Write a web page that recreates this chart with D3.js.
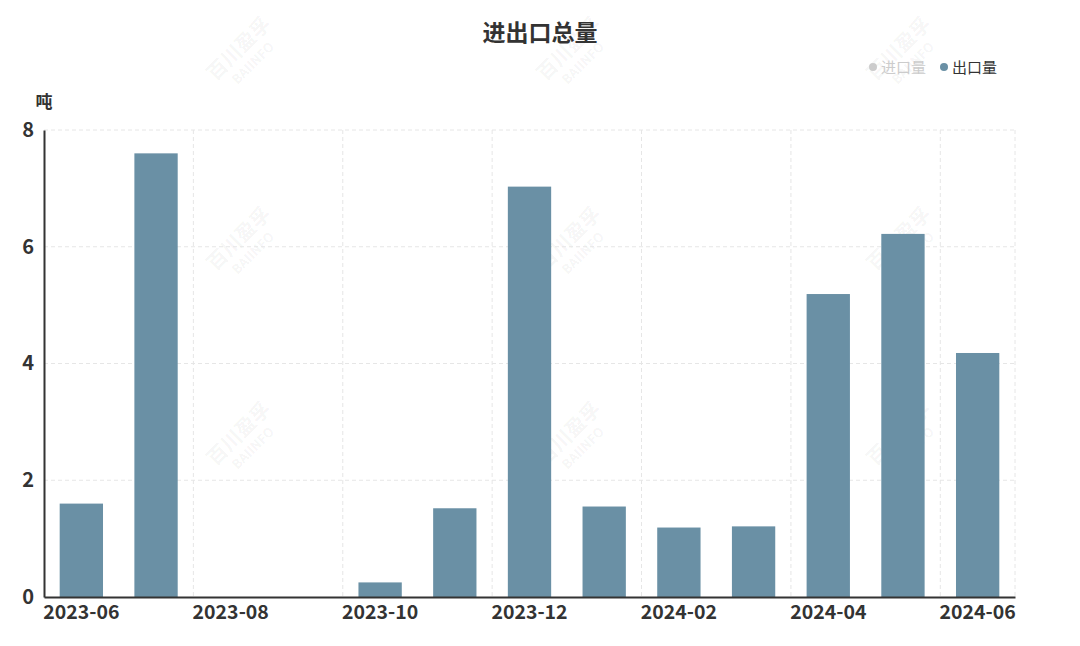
<!DOCTYPE html>
<html><head><meta charset="utf-8">
<script src="https://cdn.jsdelivr.net/npm/d3@7"></script>
<style>body{margin:0;background:#fff;}svg{display:block;font-family:"Noto Sans CJK SC","Noto Sans",sans-serif;}</style>
</head><body>
<svg id="c" width="1080" height="646"></svg>
<script>
const categories = ["2023-06","2023-07","2023-08","2023-09","2023-10","2023-11","2023-12","2024-01","2024-02","2024-03","2024-04","2024-05","2024-06"];
const exportValues = [1.6, 7.6, 0, 0, 0.25, 1.52, 7.03, 1.55, 1.19, 1.21, 5.19, 6.22, 4.18];
const yTicks = [0, 2, 4, 6, 8];
const legendItems = ["进口量", "出口量"];

const svg = d3.select("#c");
const m = {left: 44, right: 1015, top: 130, bottom: 597};
const x = d3.scaleBand().domain(categories).range([m.left, m.right]).paddingInner(0.42).paddingOuter(0.21);
const y = d3.scaleLinear().domain([0, 8]).range([m.bottom, m.top]);

// watermark
const wm = svg.append("g").attr("fill", "#000").attr("fill-opacity", 0.05);
[[245,55],[575,55],[905,55],[245,245],[575,245],[905,245],[245,440],[575,440],[905,440]].forEach(([cx,cy])=>{
  const g = wm.append("g").attr("transform", `translate(${cx},${cy}) rotate(-45)`);
  g.append("text").attr("text-anchor","middle").attr("font-size",20).attr("font-weight","bold").attr("y",-2).text("百川盈孚");
  g.append("text").attr("text-anchor","middle").attr("font-size",13).attr("font-weight","bold").attr("y",16).text("BAIINFO");
});

// grid horizontal
svg.append("g").selectAll("line").data(yTicks.filter(d=>d>0)).join("line")
  .attr("x1", m.left).attr("x2", m.right).attr("y1", d=>y(d)).attr("y2", d=>y(d))
  .attr("stroke", "#e6e6e6").attr("stroke-dasharray", "4,3");
// grid vertical at band boundaries
const vIdx = [2,4,6,8,10,12,13];
svg.append("g").selectAll("line").data(vIdx).join("line")
  .attr("x1", i=>m.left + i*(m.right-m.left)/categories.length)
  .attr("x2", i=>m.left + i*(m.right-m.left)/categories.length)
  .attr("y1", m.top).attr("y2", m.bottom)
  .attr("stroke", "#e6e6e6").attr("stroke-dasharray", "4,3");

// bars
svg.append("g").selectAll("rect").data(categories).join("rect")
  .attr("x", (d)=>x(d)).attr("width", x.bandwidth())
  .attr("y", (d,i)=>y(exportValues[i])).attr("height", (d,i)=>y(0)-y(exportValues[i]))
  .attr("fill", "#6a90a5");

// axes
const yAxis = svg.append("g").attr("transform", `translate(${m.left},0)`)
  .call(d3.axisLeft(y).tickValues(yTicks).tickSize(0).tickPadding(10));
yAxis.select(".domain").attr("stroke", "#333").attr("stroke-width", 2);
yAxis.selectAll("text").attr("font-size", 20).attr("font-weight", "bold").attr("fill", "#333").attr("font-family", "Noto Sans CJK SC");

const xAxis = svg.append("g").attr("transform", `translate(0,${m.bottom})`)
  .call(d3.axisBottom(x).tickValues(categories.filter((d,i)=>i%2===0)).tickSize(0).tickPadding(8));
xAxis.select(".domain").attr("stroke", "#333").attr("stroke-width", 2);
xAxis.selectAll("text").attr("font-size", 19.5).attr("font-weight", "bold").attr("fill", "#333").attr("font-family", "Noto Sans CJK SC");

// unit label
svg.append("text").attr("x", 44).attr("y", 108).attr("text-anchor","middle").attr("font-size", 17).attr("font-weight","bold").attr("fill","#333").text("吨");

// title
svg.append("text").attr("x", 540).attr("y", 41).attr("text-anchor","middle").attr("font-size", 23).attr("font-weight","bold").attr("fill","#333").text("进出口总量");

// legend
const lg = svg.append("g");
const lx = [873, 944];
legendItems.forEach((t,i)=>{
  const col = i===0 ? "#cccccc" : "#6a90a5";
  const tc = i===0 ? "#cccccc" : "#333";
  lg.append("circle").attr("cx", lx[i]).attr("cy", 67).attr("r", 4).attr("fill", col);
  lg.append("text").attr("x", lx[i]+8).attr("y", 72.5).attr("font-size", 15).attr("fill", tc).text(t);
});
</script>
</body></html>
